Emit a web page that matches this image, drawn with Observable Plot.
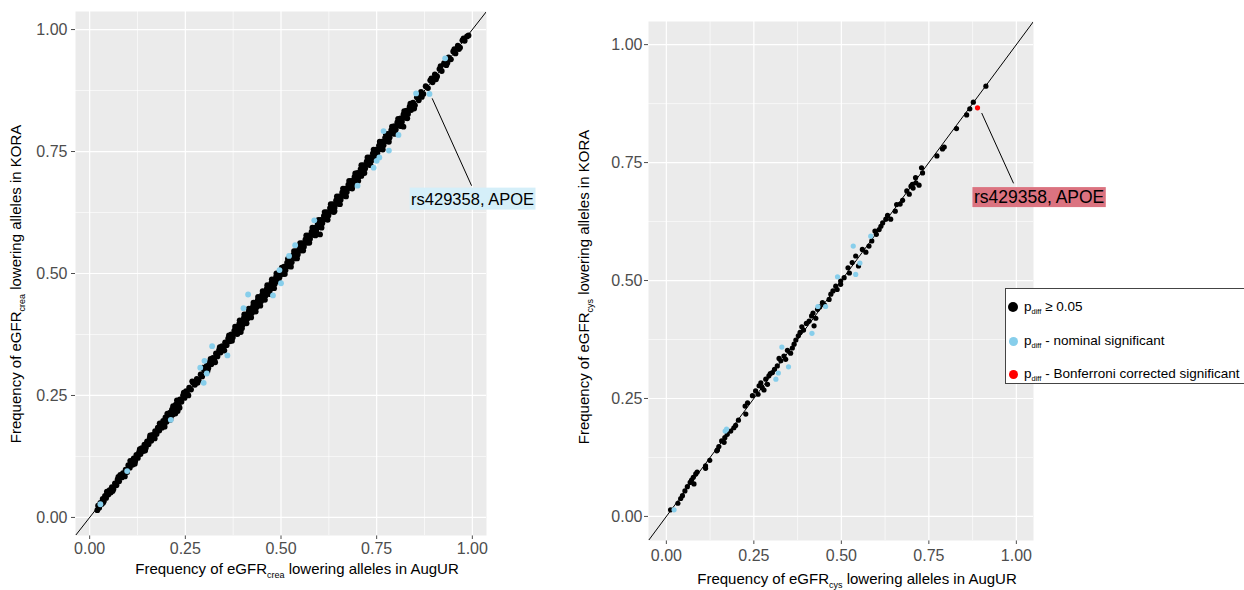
<!DOCTYPE html>
<html><head><meta charset="utf-8">
<script src="https://cdn.jsdelivr.net/npm/d3@7"></script>
<script src="https://cdn.jsdelivr.net/npm/@observablehq/plot@0.6"></script>
<style>
body{margin:0;background:#fff;font-family:"Liberation Sans",Arial,sans-serif;}
#wrap{position:relative;width:1244px;height:590px;overflow:hidden;background:#fff;}
#left{position:absolute;left:0;top:0;}
#right{position:absolute;left:560px;top:0;}
#legend{position:absolute;left:1005px;top:288px;width:240px;height:96px;border:1px solid #444;background:#fff;box-sizing:border-box;}
.item{position:absolute;left:0;height:18px;display:flex;align-items:center;font-size:13.5px;color:#000;white-space:nowrap;}
.dot{display:inline-block;border-radius:50%;margin-left:2px;margin-right:6px;}
.item sub{font-size:7.5px;vertical-align:-3px;}
svg{overflow:visible;}
</style></head><body>
<div id="wrap"><div id="left"></div><div id="right"></div>
<div id="legend">
  <div class="item" style="top:9px"><span class="dot" style="width:10px;height:10px;background:#000"></span><span>p<sub>diff</sub> ≥ 0.05</span></div>
  <div class="item" style="top:43px"><span class="dot" style="width:9px;height:9px;background:#87CEEB;margin-left:2.5px;margin-right:6.5px"></span><span>p<sub>diff</sub> - nominal significant</span></div>
  <div class="item" style="top:76px"><span class="dot" style="width:9px;height:9px;background:#FF0000;margin-left:2.5px;margin-right:6.5px"></span><span>p<sub>diff</sub> - Bonferroni corrected significant</span></div>
</div>
</div>
<script>
// ---------- data (AugUR frequency, KORA frequency) ----------
const creaNonsig = [
[0.020,0.015],[0.022,0.024],[0.025,0.020],[0.028,0.030],[0.031,0.027],[0.034,0.038],[0.037,0.033],[0.040,0.044],[0.043,0.040],[0.046,0.050],
[0.049,0.047],[0.052,0.056],[0.055,0.051],[0.058,0.062],[0.062,0.058],[0.066,0.070],[0.070,0.066],[0.073,0.078],[0.077,0.074],[0.080,0.087],
[0.084,0.082],[0.087,0.091],[0.090,0.086],[0.094,0.098],[0.098,0.093],[0.101,0.107],[0.105,0.102],[0.108,0.113],[0.112,0.108],[0.115,0.121],
[0.119,0.115],[0.122,0.128],[0.126,0.122],[0.129,0.134],[0.133,0.130],[0.136,0.142],[0.140,0.136],[0.143,0.149],[0.147,0.143],[0.150,0.156],
[0.154,0.150],[0.157,0.163],[0.161,0.157],[0.164,0.169],[0.168,0.165],[0.171,0.177],[0.175,0.171],[0.178,0.184],[0.182,0.178],[0.185,0.191],
[0.189,0.184],[0.192,0.198],[0.195,0.191],[0.198,0.205],[0.201,0.196],[0.204,0.210],[0.207,0.201],[0.210,0.215],[0.212,0.206],[0.215,0.221],
[0.217,0.211],[0.220,0.226],[0.222,0.216],[0.225,0.231],[0.227,0.222],[0.230,0.236],[0.233,0.228],[0.236,0.242],[0.240,0.237],[0.244,0.250],
[0.248,0.245],[0.252,0.259],[0.256,0.252],[0.260,0.266],[0.265,0.262],[0.270,0.276],[0.275,0.272],[0.280,0.284],[0.285,0.281],[0.290,0.293],
[0.294,0.289],[0.298,0.303],[0.302,0.300],[0.306,0.311],[0.310,0.306],[0.314,0.319],[0.318,0.314],[0.322,0.327],[0.326,0.322],[0.330,0.336],
[0.334,0.330],[0.338,0.343],[0.342,0.338],[0.346,0.351],[0.350,0.346],[0.354,0.359],[0.358,0.353],[0.362,0.367],[0.366,0.361],[0.370,0.375],
[0.374,0.369],[0.378,0.383],[0.382,0.377],[0.385,0.391],[0.388,0.384],[0.391,0.397],[0.394,0.389],[0.397,0.403],[0.400,0.395],[0.403,0.409],
[0.406,0.401],[0.409,0.415],[0.412,0.407],[0.415,0.421],[0.418,0.413],[0.421,0.427],[0.424,0.419],[0.427,0.433],[0.430,0.425],[0.433,0.439],
[0.436,0.431],[0.439,0.445],[0.442,0.437],[0.445,0.451],[0.448,0.443],[0.451,0.457],[0.454,0.449],[0.457,0.463],[0.460,0.455],[0.463,0.469],
[0.466,0.461],[0.469,0.475],[0.472,0.467],[0.475,0.481],[0.478,0.473],[0.481,0.487],[0.484,0.479],[0.487,0.493],[0.490,0.486],[0.493,0.499],
[0.496,0.492],[0.500,0.505],[0.504,0.499],[0.508,0.514],[0.512,0.507],[0.516,0.522],[0.520,0.515],[0.524,0.530],[0.528,0.523],[0.532,0.538],
[0.536,0.531],[0.540,0.546],[0.544,0.539],[0.548,0.554],[0.552,0.547],[0.556,0.562],[0.560,0.555],[0.564,0.570],[0.568,0.563],[0.572,0.578],
[0.576,0.571],[0.580,0.586],[0.584,0.579],[0.588,0.594],[0.592,0.587],[0.596,0.602],[0.600,0.595],[0.604,0.610],[0.608,0.603],[0.612,0.618],
[0.616,0.611],[0.620,0.626],[0.624,0.619],[0.628,0.634],[0.632,0.627],[0.636,0.642],[0.640,0.635],[0.644,0.650],[0.648,0.643],[0.652,0.658],
[0.656,0.651],[0.660,0.666],[0.664,0.659],[0.668,0.674],[0.672,0.667],[0.676,0.682],[0.680,0.675],[0.684,0.690],[0.688,0.683],[0.692,0.698],
[0.696,0.691],[0.700,0.706],[0.704,0.699],[0.708,0.714],[0.712,0.707],[0.716,0.722],[0.720,0.715],[0.724,0.730],[0.728,0.723],[0.732,0.738],
[0.736,0.731],[0.740,0.746],[0.744,0.739],[0.748,0.754],[0.752,0.747],[0.756,0.762],[0.760,0.755],[0.764,0.770],[0.768,0.763],[0.772,0.778],
[0.776,0.771],[0.780,0.786],[0.784,0.779],[0.788,0.794],[0.792,0.787],[0.796,0.802],[0.800,0.795],[0.804,0.810],[0.808,0.803],[0.812,0.818],
[0.816,0.811],[0.820,0.826],[0.824,0.819],[0.828,0.834],[0.832,0.827],[0.836,0.842],[0.840,0.835],[0.845,0.850],[0.850,0.845],[0.855,0.861],
[0.860,0.855],[0.866,0.872],[0.872,0.868],[0.878,0.884],[0.884,0.880],[0.890,0.896],[0.896,0.892],[0.902,0.908],[0.908,0.904],[0.914,0.919],
[0.920,0.915],[0.926,0.931],[0.932,0.927],[0.938,0.943],[0.944,0.939],[0.950,0.955],[0.956,0.951],[0.962,0.967],[0.968,0.963],[0.974,0.978],
[0.980,0.977],[0.986,0.986],[0.990,0.988],[0.602,0.580],[0.820,0.801],[0.395,0.380],[0.230,0.218],[0.470,0.458],[0.640,0.628],[0.710,0.700],
[0.035,0.030],[0.045,0.053],[0.060,0.054],[0.075,0.083],[0.092,0.084],[0.106,0.116],[0.118,0.110],[0.131,0.140],[0.145,0.137],[0.158,0.168],
[0.170,0.162],[0.183,0.193],[0.196,0.186],[0.203,0.213],[0.211,0.200],[0.218,0.228],[0.224,0.213],[0.228,0.240],[0.235,0.225],[0.246,0.256],
[0.258,0.250],[0.268,0.279],[0.282,0.276],[0.296,0.307],[0.308,0.300],[0.316,0.325],[0.328,0.318],[0.340,0.349],[0.352,0.342],[0.364,0.373],
[0.372,0.362],[0.380,0.391],[0.386,0.376],[0.392,0.404],[0.398,0.388],[0.404,0.416],[0.410,0.398],[0.416,0.428],[0.422,0.410],[0.428,0.440],
[0.434,0.422],[0.440,0.452],[0.446,0.434],[0.452,0.464],[0.458,0.446],[0.464,0.476],[0.470,0.459],[0.476,0.488],[0.482,0.470],[0.488,0.500],
[0.494,0.484],[0.502,0.512],[0.510,0.499],[0.518,0.530],[0.526,0.514],[0.534,0.546],[0.542,0.531],[0.550,0.562],[0.558,0.547],[0.566,0.578],
[0.574,0.563],[0.582,0.594],[0.590,0.578],[0.598,0.610],[0.606,0.594],[0.614,0.626],[0.622,0.610],[0.630,0.642],[0.638,0.626],[0.646,0.658],
[0.654,0.642],[0.662,0.674],[0.670,0.658],[0.678,0.690],[0.686,0.674],[0.694,0.705],[0.702,0.690],[0.710,0.722],[0.718,0.706],[0.726,0.738],
[0.734,0.722],[0.742,0.754],[0.750,0.738],[0.758,0.770],[0.766,0.754],[0.774,0.786],[0.782,0.770],[0.790,0.801],[0.798,0.786],[0.806,0.817],
[0.814,0.802],[0.822,0.833],[0.830,0.818],[0.838,0.848],[0.848,0.838],[0.858,0.866],[0.868,0.862],[0.893,0.900],[0.905,0.898],[0.917,0.925],
[0.935,0.932],[0.953,0.960],[0.965,0.960],[0.977,0.982]
];
const creaNominal = [
[0.028,0.027],[0.098,0.095],[0.212,0.200],[0.289,0.307],[0.298,0.276],[0.300,0.321],[0.306,0.295],[0.320,0.351],[0.360,0.332],[0.402,0.429],
[0.414,0.457],[0.479,0.455],[0.496,0.507],[0.500,0.480],[0.521,0.536],[0.537,0.558],[0.587,0.609],[0.700,0.680],[0.742,0.717],[0.750,0.731],
[0.757,0.738],[0.768,0.792],[0.782,0.752],[0.807,0.784],[0.853,0.869],[0.888,0.868],[0.929,0.941]
];
const creaBonferroni = [];

const cysNonsig = [
[0.012,0.014],[0.033,0.028],[0.041,0.038],[0.046,0.044],[0.053,0.054],[0.060,0.063],[0.068,0.072],[0.072,0.077],[0.077,0.083],[0.079,0.069],
[0.084,0.090],[0.088,0.094],[0.112,0.102],[0.112,0.107],[0.124,0.119],[0.144,0.139],[0.146,0.141],[0.150,0.148],[0.158,0.160],[0.165,0.157],
[0.167,0.167],[0.174,0.174],[0.184,0.181],[0.193,0.188],[0.198,0.193],[0.206,0.204],[0.227,0.217],[0.225,0.234],[0.232,0.241],[0.246,0.256],
[0.255,0.266],[0.262,0.259],[0.265,0.277],[0.270,0.283],[0.274,0.273],[0.279,0.268],[0.284,0.291],[0.289,0.280],[0.293,0.298],[0.297,0.303],
[0.303,0.305],[0.309,0.312],[0.317,0.319],[0.327,0.330],[0.322,0.335],[0.336,0.340],[0.341,0.333],[0.346,0.352],[0.355,0.346],[0.360,0.357],
[0.365,0.365],[0.370,0.374],[0.377,0.383],[0.382,0.390],[0.387,0.402],[0.392,0.395],[0.400,0.409],[0.408,0.414],[0.415,0.425],[0.419,0.431],
[0.422,0.404],[0.427,0.420],[0.432,0.439],[0.438,0.444],[0.446,0.453],[0.452,0.448],[0.465,0.460],[0.470,0.471],[0.476,0.478],[0.484,0.488],
[0.488,0.481],[0.498,0.492],[0.498,0.499],[0.508,0.506],[0.519,0.527],[0.523,0.516],[0.531,0.538],[0.541,0.552],[0.549,0.531],[0.560,0.566],
[0.570,0.560],[0.579,0.573],[0.587,0.584],[0.596,0.605],[0.600,0.598],[0.608,0.608],[0.613,0.615],[0.618,0.622],[0.627,0.630],[0.632,0.638],
[0.641,0.630],[0.654,0.647],[0.658,0.661],[0.668,0.662],[0.675,0.670],[0.687,0.690],[0.694,0.683],[0.699,0.700],[0.703,0.704],[0.705,0.696],
[0.712,0.718],[0.713,0.707],[0.722,0.702],[0.729,0.739],[0.732,0.728],[0.773,0.764],[0.789,0.779],[0.794,0.783],[0.829,0.822],[0.858,0.851],
[0.867,0.864],[0.877,0.878],[0.913,0.912]
];
const cysNominal = [
[0.022,0.014],[0.168,0.181],[0.172,0.185],[0.313,0.291],[0.320,0.304],[0.349,0.317],[0.330,0.359],[0.416,0.388],[0.433,0.445],[0.455,0.445],
[0.489,0.508],[0.534,0.573],[0.541,0.513],[0.553,0.537],[0.584,0.594]
];
const cysBonferroni = [[0.889,0.866]];

const majorTicks = [0, 0.25, 0.5, 0.75, 1];
const minorTicks = [0.125, 0.375, 0.625, 0.875];
const classNames = ["ns", "nominal", "bonferroni"];
const classColors = ["#000000", "#87CEEB", "#FF0000"];

// annotation: SNP point, leader end, label centre (data units)
const creaLabel = {text: "rs429358, APOE", px: 0.895, py: 0.859, ex: 0.998, ey: 0.680, lx: 1.0005, ly: 0.652};
const cysLabel  = {text: "rs429358, APOE", px: 0.901, py: 0.855, ex: 0.992, ey: 0.706, lx: 1.065, ly: 0.676};

function rows(ns, nom, bonf) {
  return [
    ...ns.map(([a, k]) => ({aug: a, kora: k, cls: "ns"})),
    ...nom.map(([a, k]) => ({aug: a, kora: k, cls: "nominal"})),
    ...bonf.map(([a, k]) => ({aug: a, kora: k, cls: "bonferroni"}))
  ];
}

function panel(opt) {
  const data = rows(opt.ns, opt.nom, opt.bonf);
  const dom = opt.domain;
  const plot = Plot.plot({
    width: opt.width, height: 590,
    marginLeft: opt.ml, marginRight: opt.mr, marginTop: opt.mt, marginBottom: opt.mb,
    style: {fontFamily: '"Liberation Sans", Arial, sans-serif', fontSize: "16px", color: "#4D4D4D", background: "transparent", overflow: "visible"},
    x: {domain: dom, ticks: majorTicks, tickFormat: ".2f", tickSize: 4, tickPadding: opt.xpad, label: null},
    y: {domain: dom, ticks: majorTicks, tickFormat: ".2f", tickSize: 4, tickPadding: opt.ypad, label: null},
    color: {domain: classNames, range: classColors},
    marks: [
      Plot.frame({fill: "#EBEBEB", stroke: null}),
      Plot.ruleX(minorTicks, {stroke: "white", strokeWidth: 0.6}),
      Plot.ruleY(minorTicks, {stroke: "white", strokeWidth: 0.6}),
      Plot.ruleX(majorTicks, {stroke: "white", strokeWidth: 1.2}),
      Plot.ruleY(majorTicks, {stroke: "white", strokeWidth: 1.2}),
      Plot.line(dom, {x: d => d, y: d => d, stroke: "black", strokeWidth: 1, clip: true}),
      Plot.dot(data, {x: "aug", y: "kora", fill: "cls", r: opt.r, stroke: null}),
      Plot.link([opt.label], {x1: "px", y1: "py", x2: "ex", y2: "ey", stroke: "black", strokeWidth: 1}),
      Plot.text([opt.label], {x: "lx", y: "ly", text: "text", fill: "black", fontSize: opt.labelSize, textAnchor: "middle", lineAnchor: "middle", fontFamily: '"Liberation Sans", Arial, sans-serif'})
    ]
  });
  document.getElementById(opt.host).appendChild(plot);
  // label background box
  plot.querySelectorAll('g[aria-label="text"] text').forEach(t => {
    const b = t.getBBox();
    const r = document.createElementNS("http://www.w3.org/2000/svg", "rect");
    r.setAttribute("x", b.x - 1.5); r.setAttribute("y", b.y + opt.boxTrim);
    r.setAttribute("width", b.width + 3); r.setAttribute("height", b.height - 2 * opt.boxTrim);
    r.setAttribute("fill", opt.labelFill);
    if (t.getAttribute("transform")) r.setAttribute("transform", t.getAttribute("transform"));
    t.parentNode.insertBefore(r, t);
  });
  const svg = d3.select(plot);
  function title(x, y, rot, parts) {
    const t = svg.append("text")
      .attr("transform", `translate(${x},${y})` + (rot ? " rotate(-90)" : ""))
      .attr("text-anchor", "middle").attr("fill", "black")
      .attr("font-size", 15).attr("font-family", '"Liberation Sans", Arial, sans-serif');
    t.append("tspan").text(parts[0]);
    t.append("tspan").attr("font-size", 9).attr("dy", 4).text(parts[1]);
    t.append("tspan").attr("dy", -4).text(parts[2]);
  }
  title(opt.xt[0], opt.xt[1], false, ["Frequency of eGFR", opt.sub, " lowering alleles in AugUR"]);
  title(opt.yt[0], opt.yt[1], true, ["Frequency of eGFR", opt.sub, " lowering alleles in KORA"]);
}

panel({host: "left", ns: creaNonsig, nom: creaNominal, bonf: creaBonferroni,
  domain: [-0.037, 1.037], width: 560, ml: 75, mr: 74, mt: 11, mb: 55, xpad: 3, ypad: 4, r: 2.9,
  label: creaLabel, labelSize: 16.5, labelFill: "#D5EFF9", boxTrim: -2,
  sub: "crea", xt: [297, 574], yt: [21, 284]});

panel({host: "right", ns: cysNonsig, nom: cysNominal, bonf: cysBonferroni,
  domain: [-0.051, 1.049], width: 684, ml: 88, mr: 211, mt: 21, mb: 50, xpad: 5, ypad: 2, r: 2.6,
  label: cysLabel, labelSize: 17.5, labelFill: "#DB7380", boxTrim: 0,
  sub: "cys", xt: [297, 584], yt: [29, 287]});
</script>
</body></html>
